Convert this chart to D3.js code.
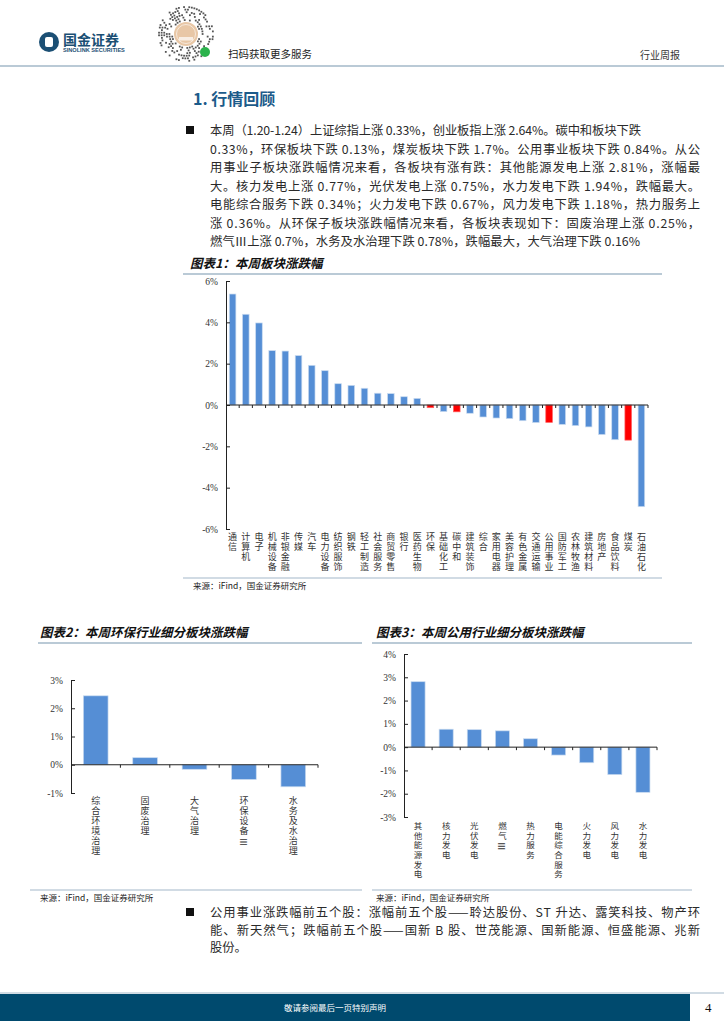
<!DOCTYPE html>
<html>
<head>
<meta charset="utf-8">
<script src="https://cdn.jsdelivr.net/npm/d3@7"></script>
<style>
  body { margin: 0; background: #fff; }
  svg { display: block; }
</style>
</head>
<body>
<svg id="page" width="724" height="1024"></svg>
<script>
// ---- data ----
var sectors = ["通信","计算机","电子","机械设备","非银金融","传媒","汽车","电力设备","纺织服饰","钢铁",
               "轻工制造","社会服务","商贸零售","银行","医药生物","环保","基础化工","碳中和","建筑装饰","综合",
               "家用电器","美容护理","有色金属","交通运输","公用事业","国防军工","农林牧渔","建筑材料","房地产","食品饮料",
               "煤炭","石油石化"];
var sectorChg = [5.37,4.39,3.97,2.63,2.61,2.39,1.92,1.66,1.03,0.95,
                 0.81,0.57,0.55,0.40,0.32,-0.13,-0.32,-0.33,-0.40,-0.58,
                 -0.63,-0.66,-0.76,-0.85,-0.84,-0.94,-1.00,-1.06,-1.43,-1.68,
                 -1.70,-4.92];
var redSectors = ["环保","碳中和","公用事业","煤炭"];
var ticks1 = [-6,-4,-2,0,2,4,6];

var envCats = ["综合环境治理","固废治理","大气治理","环保设备Ⅲ","水务及水治理"];
var envChg = [2.44,0.25,-0.16,-0.52,-0.78];
var ticks2 = [-1,0,1,2,3];

var utilCats = ["其他能源发电","核力发电","光伏发电","燃气Ⅲ","热力服务","电能综合服务","火力发电","风力发电","水力发电"];
var utilChg = [2.81,0.77,0.75,0.70,0.36,-0.34,-0.67,-1.18,-1.94];
var ticks3 = [-3,-2,-1,0,1,2,3,4];

var para1 = [
  "本周（1.20-1.24）上证综指上涨 0.33%，创业板指上涨 2.64%。碳中和板块下跌",
  "0.33%，环保板块下跌 0.13%，煤炭板块下跌 1.7%。公用事业板块下跌 0.84%。从公",
  "用事业子板块涨跌幅情况来看，各板块有涨有跌：其他能源发电上涨 2.81%，涨幅最",
  "大。核力发电上涨 0.77%，光伏发电上涨 0.75%，水力发电下跌 1.94%，跌幅最大。",
  "电能综合服务下跌 0.34%；火力发电下跌 0.67%，风力发电下跌 1.18%，热力服务上",
  "涨 0.36%。从环保子板块涨跌幅情况来看，各板块表现如下：固废治理上涨 0.25%，",
  "燃气Ⅲ上涨 0.7%，水务及水治理下跌 0.78%，跌幅最大，大气治理下跌 0.16%"
];
var para1Width = [431, 490, 490, 490, 490, 490, 430];
var para2 = [
  "公用事业涨跌幅前五个股：涨幅前五个股——聆达股份、ST 升达、露笑科技、物产环",
  "能、新天然气；跌幅前五个股——国新 B 股、世茂能源、国新能源、恒盛能源、兆新",
  "股份。"
];
var para2Width = [490, 490, 0];

var CJK = "'Noto Sans CJK SC', 'Noto Sans', sans-serif";
var SERIF = "'Liberation Serif', 'DejaVu Serif', serif";
var BLUE = "#558ed5", RED = "#ff0000", RULE = "#a3b8c9", NAVY = "#004a6e";

var svg = d3.select("#page");

// ---- header ----
var logo = svg.append("g");
logo.append("circle").attr("cx", 49).attr("cy", 42).attr("r", 10).attr("fill", "#1b4f74");
logo.append("rect").attr("x", 45).attr("y", 37).attr("width", 8).attr("height", 10).attr("rx", 2).attr("fill", "#fff");
logo.append("text").attr("x", 63).attr("y", 45).attr("font-family", CJK).attr("font-weight", "bold")
  .attr("font-size", 14).attr("fill", "#1b4f74").text("国金证券");
logo.append("text").attr("x", 63).attr("y", 52).attr("font-family", "'Liberation Sans', Arial, sans-serif")
  .attr("font-weight", "bold").attr("font-size", 5.6).attr("fill", "#1b4f74").text("SINOLINK SECURITIES");

// mini-program code (decorative)
var qr = svg.append("g").attr("transform", "translate(186,34)");
qr.append("circle").attr("r", 28).attr("fill", "#fff");
d3.range(14, 28, 2.6).forEach(function (r, ri) {
  var n = Math.round(2 * Math.PI * r / 2.6);
  d3.range(n).forEach(function (k) {
    var h = Math.abs(Math.sin((k + 1) * 12.9898 + (ri + 1) * 78.233) * 43758.5453) % 1;
    if (h > 0.45) {
      var a = k / n * 2 * Math.PI;
      qr.append("rect").attr("x", r * Math.cos(a) - 0.9).attr("y", r * Math.sin(a) - 0.9)
        .attr("width", 1.8).attr("height", 1.8).attr("fill", "#555");
    }
  });
});
qr.append("circle").attr("r", 12).attr("fill", "#e8c7a6");
qr.append("circle").attr("r", 9.5).attr("fill", "none").attr("stroke", "#fff").attr("stroke-width", 0.6);
qr.append("rect").attr("x", -7).attr("y", 3).attr("width", 14).attr("height", 3.5).attr("fill", "#fff").attr("opacity", 0.7);
qr.append("circle").attr("cx", 19).attr("cy", 18).attr("r", 5).attr("fill", "#2bb24c");

svg.append("text").attr("x", 228).attr("y", 58).attr("font-family", CJK).attr("font-size", 10.5)
  .attr("fill", "#222").text("扫码获取更多服务");
svg.append("text").attr("x", 640).attr("y", 59).attr("font-family", CJK).attr("font-size", 10)
  .attr("fill", "#333").text("行业周报");
svg.append("line").attr("x1", 0).attr("x2", 724).attr("y1", 66).attr("y2", 66)
  .attr("stroke", RULE).attr("stroke-width", 1.5);

// ---- section title and paragraphs ----
svg.append("text").attr("x", 193).attr("y", 105).attr("font-family", CJK).attr("font-weight", "bold")
  .attr("font-size", 16).attr("fill", "#1c5b8a").text("1. 行情回顾");

function paragraph(lines, widths, y0, step) {
  svg.append("rect").attr("x", 186).attr("y", y0 - 9).attr("width", 8).attr("height", 8).attr("fill", "#111");
  lines.forEach(function (s, i) {
    var t = svg.append("text").attr("x", 210).attr("y", y0 + i * step)
      .attr("font-family", CJK).attr("font-size", 12.3).attr("fill", "#2a2a2a").text(s);
    if (widths[i]) t.attr("textLength", widths[i]).attr("lengthAdjust", "spacing");
  });
}
paragraph(para1, para1Width, 135, 18.5);

// ---- generic bar chart ----
function barChart(o) {
  var g = svg.append("g");
  var p = 0.5;
  var x = d3.scaleBand().domain(o.cats).range([o.x0, o.x1]).paddingInner(p).paddingOuter(p / 2);
  var y = d3.scaleLinear().domain(o.yDom).range(o.yRange);

  g.selectAll("rect.bar").data(o.cats).enter().append("rect")
    .attr("class", "bar")
    .attr("x", function (d) { return x(d); })
    .attr("width", x.bandwidth())
    .attr("y", function (d, i) { return y(Math.max(0, o.vals[i])); })
    .attr("height", function (d, i) { return Math.abs(y(o.vals[i]) - y(0)); })
    .attr("fill", function (d) { return o.color(d); })
    .attr("stroke", function (d) { return o.color(d) === RED ? "#ff6060" : "#c9dbf0"; })
    .attr("stroke-width", 0.7);

  var yAxis = d3.axisLeft(y).tickValues(o.ticks).tickSize(-4).tickSizeOuter(0).tickPadding(8)
    .tickFormat(function (d) { return d + "%"; });
  var ya = g.append("g").attr("transform", "translate(" + o.x0 + ",0)").call(yAxis);
  ya.select(".domain").attr("stroke", "#222");
  ya.selectAll("line").attr("stroke", "#222");
  ya.selectAll("text").attr("font-family", SERIF).attr("font-size", 9.5).attr("fill", "#333");

  // category axis along zero, ticks on band boundaries
  var y0 = y(0);
  g.append("line").attr("x1", o.x0).attr("x2", o.x1).attr("y1", y0).attr("y2", y0)
    .attr("stroke", "#222").attr("stroke-width", 1);
  var bounds = o.cats.map(function (d) { return x(d) - x.step() * p / 2; }).slice(1).concat([o.x1]);
  g.selectAll("line.bt").data(bounds).enter().append("line")
    .attr("x1", function (d) { return d; }).attr("x2", function (d) { return d; })
    .attr("y1", y0).attr("y2", y0 + 3).attr("stroke", "#222");

  // vertical category labels, one text per label; a trailing Ⅲ is laid on its side
  o.cats.forEach(function (c) {
    var cx = x(c) + x.bandwidth() / 2;
    var parts = c.split("Ⅲ");
    g.append("text").attr("x", cx).attr("y", o.labelY - o.labelSize / 2)
      .style("writing-mode", "vertical-rl").style("text-orientation", "upright")
      .attr("letter-spacing", o.labelStep - o.labelSize)
      .attr("font-family", CJK).attr("font-size", o.labelSize).attr("fill", "#333")
      .text(parts[0]);
    if (parts.length > 1) {
      var cy = o.labelY + Array.from(parts[0]).length * o.labelStep + 1;
      g.append("text").attr("x", cx).attr("y", cy)
        .attr("text-anchor", "middle").attr("dominant-baseline", "central")
        .attr("transform", "rotate(90," + cx + "," + cy + ")")
        .attr("font-family", CJK).attr("font-size", o.labelSize).attr("fill", "#333").text("Ⅲ");
    }
  });
}

function chartTitle(s, x, y, lx0, lx1) {
  svg.append("text").attr("x", x).attr("y", y).attr("font-family", CJK).attr("font-weight", "bold")
    .attr("font-style", "italic").attr("font-size", 12.5).attr("fill", "#111").text(s);
  svg.append("line").attr("x1", lx0).attr("x2", lx1).attr("y1", y + 6).attr("y2", y + 6)
    .attr("stroke", RULE).attr("stroke-width", 1.5);
}
function source(x, y, lx0, lx1) {
  svg.append("line").attr("x1", lx0).attr("x2", lx1).attr("y1", y - 11).attr("y2", y - 11)
    .attr("stroke", RULE).attr("stroke-width", 1.2);
  svg.append("text").attr("x", x).attr("y", y).attr("font-family", CJK).attr("font-size", 8.5)
    .attr("fill", "#222").text("来源：iFind，国金证券研究所");
}

// chart 1
chartTitle("图表1：本周板块涨跌幅", 190, 268, 183, 662);
barChart({
  cats: sectors, vals: sectorChg, x0: 226, x1: 648,
  yDom: [-6, 6], yRange: [529, 281], ticks: ticks1,
  color: function (d) { return redSectors.indexOf(d) >= 0 ? RED : BLUE; },
  labelY: 537, labelStep: 10, labelSize: 9
});
source(193, 589, 183, 662);

// chart 2
chartTitle("图表2：本周环保行业细分板块涨跌幅", 40, 637, 38, 362);
barChart({
  cats: envCats, vals: envChg, x0: 71, x1: 318,
  yDom: [-1, 3], yRange: [793, 680], ticks: ticks2,
  color: function () { return BLUE; },
  labelY: 801, labelStep: 10, labelSize: 9
});

// chart 3
chartTitle("图表3：本周公用行业细分板块涨跌幅", 376, 637, 372, 692);
barChart({
  cats: utilCats, vals: utilChg, x0: 404, x1: 657,
  yDom: [-3, 4], yRange: [817, 654], ticks: ticks3,
  color: function () { return BLUE; },
  labelY: 826, labelStep: 9.6, labelSize: 8.5
});
source(40, 901, 30, 362);
source(376, 901, 372, 692);

paragraph(para2, para2Width, 917, 17.5);

// ---- footer ----
svg.append("line").attr("x1", 0).attr("x2", 724).attr("y1", 993).attr("y2", 993)
  .attr("stroke", RULE).attr("stroke-width", 1);
svg.append("rect").attr("x", 0).attr("y", 994).attr("width", 690).attr("height", 27).attr("fill", NAVY);
svg.append("text").attr("x", 335).attr("y", 1011).attr("text-anchor", "middle").attr("font-family", CJK)
  .attr("font-size", 8.5).attr("fill", "#fff").text("敬请参阅最后一页特别声明");
svg.append("text").attr("x", 705).attr("y", 1012).attr("font-family", SERIF).attr("font-size", 13)
  .attr("fill", "#111").text("4");
</script>
</body>
</html>
